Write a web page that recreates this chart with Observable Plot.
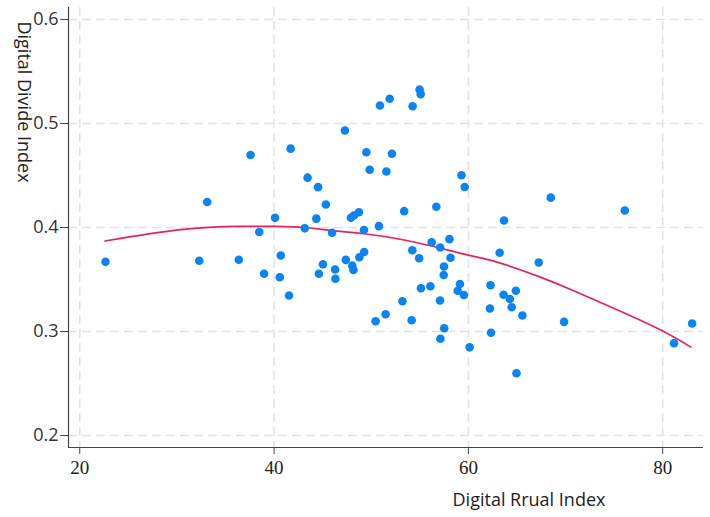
<!DOCTYPE html>
<html><head><meta charset="utf-8">
<script src="https://cdn.jsdelivr.net/npm/d3@7"></script>
<script src="https://cdn.jsdelivr.net/npm/@observablehq/plot@0.6"></script>
<style>body{margin:0;background:#fff}</style>
</head><body><div id="chart"></div>
<script>
// Digital Rural Index (x) for each observation
const rural = [22.65,32.30,33.12,36.37,37.58,38.48,38.97,40.10,40.59,40.69,41.54,41.70,43.16,43.45,44.35,44.53,44.61,45.03,45.33,45.97,46.28,46.31,47.29,47.38,47.91,48.22,48.73,48.05,48.17,48.78,49.27,49.25,49.50,49.84,50.79,50.90,51.56,51.90,52.13,50.45,51.48,53.21,53.39,54.16,54.23,54.26,54.93,54.98,55.09,55.12,56.09,56.22,56.70,57.10,57.08,57.12,57.49,57.46,57.51,58.05,58.16,58.90,59.13,59.54,59.29,59.62,60.13,62.22,62.28,62.33,63.22,63.62,63.67,64.27,64.46,64.89,64.95,65.56,67.24,68.48,69.85,76.10,81.17,83.03];
// Digital Divide Index (y) for each observation
const divide = [0.367,0.368,0.4245,0.369,0.4697,0.3957,0.3555,0.4093,0.3522,0.3731,0.3346,0.4758,0.3992,0.4479,0.4085,0.4388,0.3556,0.3646,0.4221,0.3949,0.3596,0.3507,0.4933,0.3689,0.4093,0.4115,0.4147,0.3633,0.3591,0.3714,0.3764,0.3976,0.4724,0.4555,0.4013,0.5173,0.4538,0.5238,0.4709,0.3099,0.3166,0.3291,0.4157,0.3109,0.3781,0.5166,0.3704,0.5327,0.5282,0.3416,0.3435,0.3858,0.4199,0.3808,0.3298,0.2930,0.3625,0.3543,0.3032,0.3888,0.3709,0.3392,0.3457,0.3351,0.4502,0.4389,0.2848,0.3221,0.3445,0.2988,0.3757,0.3353,0.4067,0.3312,0.3233,0.3392,0.2599,0.3154,0.3663,0.4287,0.3093,0.4163,0.2888,0.3077];
// Quadratic fit line
const fitX = [22.6,30.4,36.5,40.1,43.2,46.0,49.3,53.4,57.2,60.2,63.2,67.2,70.9,76.0,80.1,82.9];
const fitY = [0.387,0.398,0.401,0.401,0.400,0.397,0.394,0.388,0.380,0.373,0.366,0.353,0.339,0.318,0.300,0.285];
const xTicks = [20,40,60,80];
const yTicks = [0.2,0.3,0.4,0.5,0.6];
const xTitle = "Digital Rrual Index";
const yTitle = "Digital Divide Index";

const points = rural.map((x,i)=>({x, y: divide[i]}));
const fit = fitX.map((x,i)=>({x, y: fitY[i]}));
const xDom = [18.84, 84.2], yDom = [0.1885, 0.6115];

const plot = Plot.plot({
  width: 710, height: 517,
  marginLeft: 68, marginRight: 7, marginTop: 7, marginBottom: 70,
  style: {background: "#fff", overflow: "visible"},
  x: {domain: xDom, label: null},
  y: {domain: yDom, label: null},
  marks: [
    Plot.gridX(xTicks, {stroke: "#e2e2e2", strokeOpacity: 1, strokeWidth: 1.5, strokeDasharray: "9,5"}),
    Plot.gridY(yTicks, {stroke: "#e2e2e2", strokeOpacity: 1, strokeWidth: 1.5, strokeDasharray: "9,5"}),
    Plot.ruleX([xDom[0]], {stroke: "#444", strokeWidth: 1.2}),
    Plot.ruleY([yDom[0]], {stroke: "#444", strokeWidth: 1.2}),
    Plot.axisX(xTicks, {tickSize: 7, tickPadding: 6, fontSize: 19, fontFamily: "Liberation Serif, Times New Roman, serif", stroke: "#444", color: "#222", tickFormat: d => String(d)}),
    Plot.axisY(yTicks, {tickSize: 8, tickPadding: 2, fontSize: 18, fontFamily: "Open Sans, sans-serif", stroke: "#444", color: "#333", tickFormat: d3.format(".1f")}),
    Plot.line(fit, {x: "x", y: "y", stroke: "#e5245c", strokeWidth: 1.7, curve: "natural"}),
    Plot.dot(points, {x: "x", y: "y", r: 4.3, fill: "#0a84f5", stroke: null})
  ]
});

const svg = d3.select(plot);
svg.append("text")
  .attr("transform", "translate(18,102) rotate(90)")
  .attr("text-anchor", "middle")
  .attr("font-family", "Open Sans, sans-serif")
  .attr("font-size", 18)
  .attr("fill", "#222")
  .text(yTitle);
svg.append("text")
  .attr("x", 529).attr("y", 506)
  .attr("text-anchor", "middle")
  .attr("font-family", "Open Sans, sans-serif")
  .attr("font-size", 18)
  .attr("fill", "#222")
  .text(xTitle);

document.getElementById("chart").append(plot);
</script>
</body></html>
